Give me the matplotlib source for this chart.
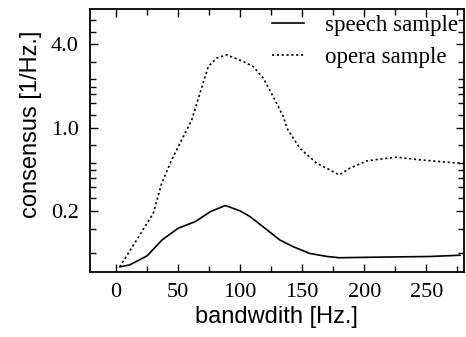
import numpy as np
import matplotlib
matplotlib.use("Agg")
import matplotlib.pyplot as plt
from matplotlib.ticker import FixedLocator, NullFormatter, MultipleLocator

# speech sample (solid)
speech_bw = [3, 11, 25, 37, 50, 64, 76, 88, 100, 108, 120, 132, 143, 156, 170, 180, 213, 253, 277]
speech_val = [0.068, 0.0705, 0.084, 0.114, 0.143, 0.163, 0.197, 0.222, 0.200, 0.179, 0.143, 0.114,
              0.100, 0.088, 0.083, 0.081, 0.082, 0.083, 0.085]

# opera sample (dotted)
opera_bw = [3, 16.6, 30, 36.8, 44.8, 52.9, 61, 67.6, 74.3, 81, 89, 102.5, 110.5, 118.6, 126.6,
            134.7, 138, 148, 161.6, 172.3, 179.8, 188.4, 201.8, 212.6, 226, 244.8, 260.9, 277]
opera_val = [0.068, 0.114, 0.191, 0.341, 0.536, 0.788, 1.136, 1.77, 2.756, 3.169, 3.349, 2.994, 2.756,
             2.272, 1.672, 1.2, 0.974, 0.671, 0.502, 0.441, 0.401, 0.456, 0.525, 0.543, 0.564, 0.536,
             0.518, 0.502]

y_labels = ["0.2", "1.0", "4.0"]
y_ticks = [0.2, 1.0, 4.0]

# the y axis puts 0.2, 1.0 and 4.0 at equal steps
L02, L5, L4 = np.log10(0.2), np.log10(5), np.log10(4)


def fwd(v):
    lv = np.log10(np.clip(np.asarray(v, dtype=float), 1e-9, None))
    return np.where(lv < 0, (lv - L02) / L5, 1 + lv / L4)


def inv(s):
    s = np.asarray(s, dtype=float)
    return np.where(s < 1, 0.2 * 5.0 ** s, 4.0 ** (s - 1))


fig = plt.figure(figsize=(4.66, 3.37), dpi=100)
ax = fig.add_axes([0.193, 0.194, 0.802, 0.780])

ax.plot(speech_bw, speech_val, color="black", lw=1.2, label="speech sample")
ax.plot(opera_bw, opera_val, color="black", lw=1.2, linestyle=(0, (1.3, 1.6)), label="opera sample")

ax.set_yscale("function", functions=(fwd, inv))
ax.set_xlim(-21, 280)
ax.set_ylim(float(inv(-0.728)), float(inv(2.424)))

ax.set_yticks(y_ticks)
ax.set_yticklabels(y_labels)
minor_levels = [-0.508, -0.216, 0.152, 0.292, 0.400, 0.492, 0.579, 0.792,
                1.152, 1.292, 1.400, 1.484, 1.584, 1.791, 2.151, 2.292]
ax.yaxis.set_minor_locator(FixedLocator(inv(minor_levels)))
ax.yaxis.set_minor_formatter(NullFormatter())

ax.xaxis.set_major_locator(MultipleLocator(50))
ax.xaxis.set_minor_locator(MultipleLocator(25))

ax.tick_params(which="both", direction="in", top=True, right=True, width=1)
ax.tick_params(which="major", length=6, labelsize=16, pad=8)
ax.tick_params(which="minor", length=4)
for lab in ax.get_xticklabels() + ax.get_yticklabels():
    lab.set_family("Liberation Serif")
for s in ax.spines.values():
    s.set_linewidth(1.3)

ax.set_xlabel("bandwdith [Hz.]", fontsize=17, family="Liberation Sans", labelpad=3)
ax.set_ylabel("consensus [1/Hz.]", fontsize=17, family="Liberation Sans")
ax.yaxis.set_label_coords(-0.128, 0.56)

ax.legend(loc="upper right", frameon=False, prop={"family": "Liberation Serif", "size": 16.5},
          handlelength=1.4, handletextpad=0.9, borderaxespad=0.05, labelspacing=0.5,
          borderpad=0.2)

fig.savefig("out.png", dpi=100)
